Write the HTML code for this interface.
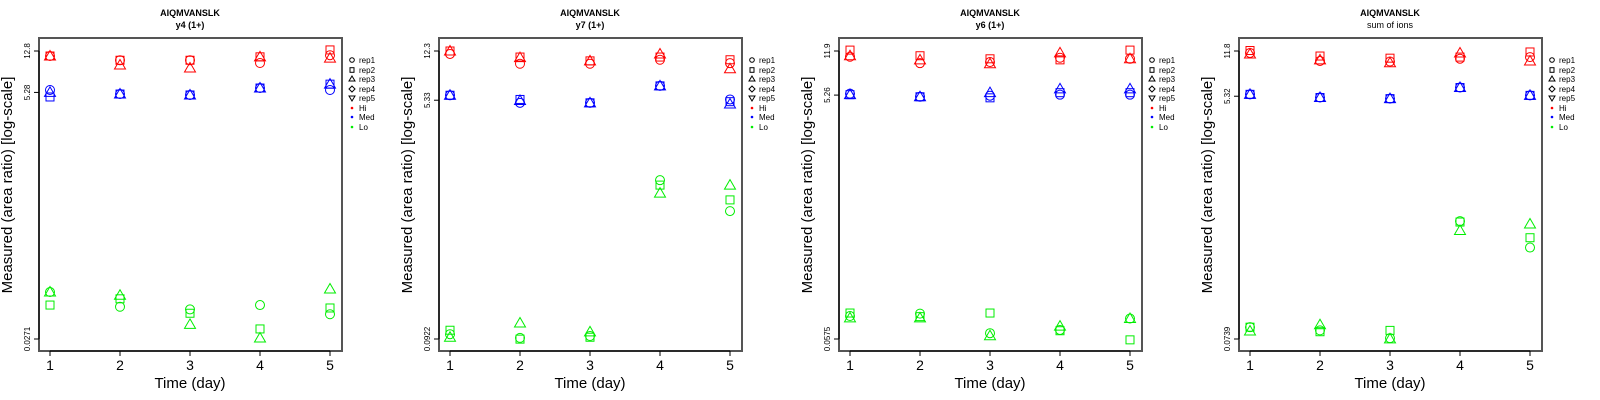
<!DOCTYPE html>
<html><head><meta charset="utf-8"><style>
html,body{margin:0;padding:0;background:#fff;}
svg{display:block;font-family:"Liberation Sans",sans-serif;}
</style></head><body>
<svg id="chart" width="1600" height="400" viewBox="0 0 1600 400" xmlns="http://www.w3.org/2000/svg"></svg>
<script>
// ---- data ----
const days = [1, 2, 3, 4, 5];
const panelTitles = ["y4 (1+)", "y7 (1+)", "y6 (1+)", "sum of ions"];
const peptide = "AIQMVANSLK";
const yTickLabels = [["12.8","5.28","0.0271"],["12.3","5.33","0.0922"],["11.9","5.26","0.0575"],["11.8","5.32","0.0739"]];
const yTickValues = [[12.8,5.28,0.0271],[12.3,5.33,0.0922],[11.9,5.26,0.0575],[11.8,5.32,0.0739]];
const groups = ["Hi","Med","Lo"];
const reps = ["rep1","rep2","rep3","rep4","rep5"];
// values[panel][group][rep(circle,square,triangle)][day]
const p1Hi  = [[11.5,10.5,10.5,9.9,11.7],[11.5,10.5,10.5,11.3,13.1],[11.5,9.5,8.9,11.3,11.0]];
const p1Med = [[5.56,5.1,5.0,5.8,5.56],[4.79,5.1,5.0,5.8,6.3],[5.28,5.1,5.0,5.8,6.3]];
const p1Lo  = [[0.074,0.054,0.051,0.056,0.046],[0.056,0.064,0.047,0.0336,0.0526],[0.074,0.069,0.037,0.0277,0.079]];
const p2Hi  = [[11.7,9.9,9.9,10.6,10.0],[12.3,11.1,10.4,11.1,10.6],[12.3,11.0,10.4,11.7,9.1]];
const p2Med = [[5.8,5.1,5.1,6.8,5.4],[5.8,5.4,5.1,6.8,5.2],[5.8,5.3,5.1,6.8,5.0]];
const p2Lo  = [[0.100,0.094,0.097,1.37,0.81],[0.107,0.092,0.095,1.26,0.98],[0.095,0.121,0.104,1.10,1.26]];
const p3Hi  = [[10.7,9.5,9.7,10.5,10.3],[12.1,10.9,10.3,10.1,12.1],[10.9,10.1,9.4,11.5,10.3]];
const p3Med = [[5.4,5.1,5.2,5.3,5.3],[5.3,5.1,5.0,5.5,5.5],[5.3,5.1,5.5,5.9,5.9]];
const p3Lo  = [[0.088,0.092,0.064,0.068,0.084],[0.093,0.087,0.093,0.067,0.0566],[0.085,0.085,0.061,0.073,0.084]];
const p4Hi  = [[11.4,9.9,9.8,10.3,10.6],[11.9,10.8,10.4,10.6,11.6],[11.2,10.1,9.6,11.4,9.9]];
const p4Med = [[5.5,5.2,5.1,6.2,5.4],[5.5,5.2,5.1,6.2,5.4],[5.5,5.2,5.1,6.2,5.4]];
const p4Lo  = [[0.091,0.086,0.075,0.59,0.37],[0.091,0.084,0.086,0.58,0.44],[0.085,0.095,0.074,0.50,0.56]];
const panelData = [[p1Hi,p1Med,p1Lo],[p2Hi,p2Med,p2Lo],[p3Hi,p3Med,p3Lo],[p4Hi,p4Med,p4Lo]];
const groupColors = ["#ff0000","#0000ff","#00ee00"];

const NS = "http://www.w3.org/2000/svg";
const svg = document.getElementById("chart");
function mk(tag, attrs, parent){const e=document.createElementNS(NS,tag);for(const k in attrs)e.setAttribute(k,attrs[k]);parent.appendChild(e);return e;}

for (let p = 0; p < 4; p++) {
  const ox = 400 * p;
  const g = mk("g", {}, svg);
  
  
  const top = Math.log10(yTickValues[p][0]), bot = Math.log10(yTickValues[p][2]);
  const yS = v => 51 + (top - Math.log10(v)) / (top - bot) * 288;
  const xS = d => ox + 50 + (d - 1) * 70;

  const t1 = mk("text", {x: ox + 190, y: 16, "text-anchor": "middle", "font-size": 9, "font-weight": "bold"}, g);
  t1.textContent = peptide;
  
  
  const t2 = mk("text", {x: ox + 190, y: 28, "text-anchor": "middle", "font-size": 9, "font-weight": p === 3 ? "normal" : "bold"}, g);
  t2.textContent = panelTitles[p];
  
  

  const box = mk("rect", {x: ox + 39, y: 38, width: 303, height: 313, fill: "none", stroke: "#555", "stroke-width": 2}, g);
  
  

  for (let i = 0; i < days.length; i++) {
    const x = xS(days[i]);
    mk("line", {x1: x, x2: x, y1: 351, y2: 356, stroke: "#000"}, g);
    const tl = mk("text", {x: x, y: 370, "text-anchor": "middle", "font-size": 14}, g);
    tl.textContent = days[i];
    
    
  }
  mk("line", {x1: xS(1), x2: xS(5), y1: 351, y2: 351, stroke: "#000"}, g);
  const xl = mk("text", {x: ox + 190, y: 388, "text-anchor": "middle", "font-size": 15}, g);
  xl.textContent = "Time (day)";
  
  

  for (let i = 0; i < 3; i++) {
    const y = yS(yTickValues[p][i]);
    mk("line", {x1: ox + 34, x2: ox + 39, y1: y, y2: y, stroke: "#000"}, g);
    const yl = mk("text", {x: 0, y: 0, "text-anchor": "middle", "font-size": 8, transform: `translate(${ox + 30},${y}) rotate(-90)`}, g);
    yl.textContent = yTickLabels[p][i];
    
    
  }
  mk("line", {x1: ox + 39, x2: ox + 39, y1: yS(yTickValues[p][0]), y2: yS(yTickValues[p][2]), stroke: "#000"}, g);
  const ytl = mk("text", {x: 0, y: 0, "text-anchor": "middle", "font-size": 15, transform: `translate(${ox + 12},185) rotate(-90)`}, g);
  ytl.textContent = "Measured (area ratio) [log-scale]";
  
  

  // markers
  for (let gi = 0; gi < 3; gi++) {
    const col = groupColors[gi];
    for (let r = 0; r < 3; r++) {
      const vals = panelData[p][gi][r];
      for (let d = 0; d < days.length; d++) {
        const x = xS(days[d]), y = yS(vals[d]);
        let m;
        if (r === 0) m = mk("circle", {cx: x, cy: y, r: 4.5, fill: "none", stroke: col, "stroke-width": 1}, g);
        else if (r === 1) m = mk("rect", {x: x - 4, y: y - 4, width: 8, height: 8, fill: "none", stroke: col, "stroke-width": 1}, g);
        else m = mk("polygon", {points: `${x},${y - 5.5} ${x + 5.5},${y + 4} ${x - 5.5},${y + 4}`, fill: "none", stroke: col, "stroke-width": 1}, g);
        
        
      }
    }
  }

  // legend
  const legY = [60, 70, 79, 89, 98, 108, 117, 127];
  const labels = reps.concat(groups);
  for (let i = 0; i < labels.length; i++) {
    const lx = ox + 352, ly = legY[i];
    const lg = mk("g", {}, g);
    
    
    if (i === 0) mk("circle", {cx: lx, cy: ly, r: 2.3, fill: "none", stroke: "#000"}, lg);
    else if (i === 1) mk("rect", {x: lx - 2, y: ly - 2.3, width: 4, height: 4.6, fill: "none", stroke: "#000"}, lg);
    else if (i === 2) mk("polygon", {points: `${lx},${ly - 3} ${lx + 3},${ly + 2} ${lx - 3},${ly + 2}`, fill: "none", stroke: "#000"}, lg);
    else if (i === 3) mk("polygon", {points: `${lx},${ly - 3} ${lx + 3},${ly} ${lx},${ly + 3} ${lx - 3},${ly}`, fill: "none", stroke: "#000"}, lg);
    else if (i === 4) mk("polygon", {points: `${lx},${ly + 3} ${lx + 3},${ly - 2} ${lx - 3},${ly - 2}`, fill: "none", stroke: "#000"}, lg);
    else mk("circle", {cx: lx, cy: ly, r: 1.3, fill: groupColors[i - 5]}, lg);
    const lt = mk("text", {x: lx + 7, y: ly + 3, "font-size": 8}, lg);
    lt.textContent = labels[i];
  }
}
</script>
</body></html>
